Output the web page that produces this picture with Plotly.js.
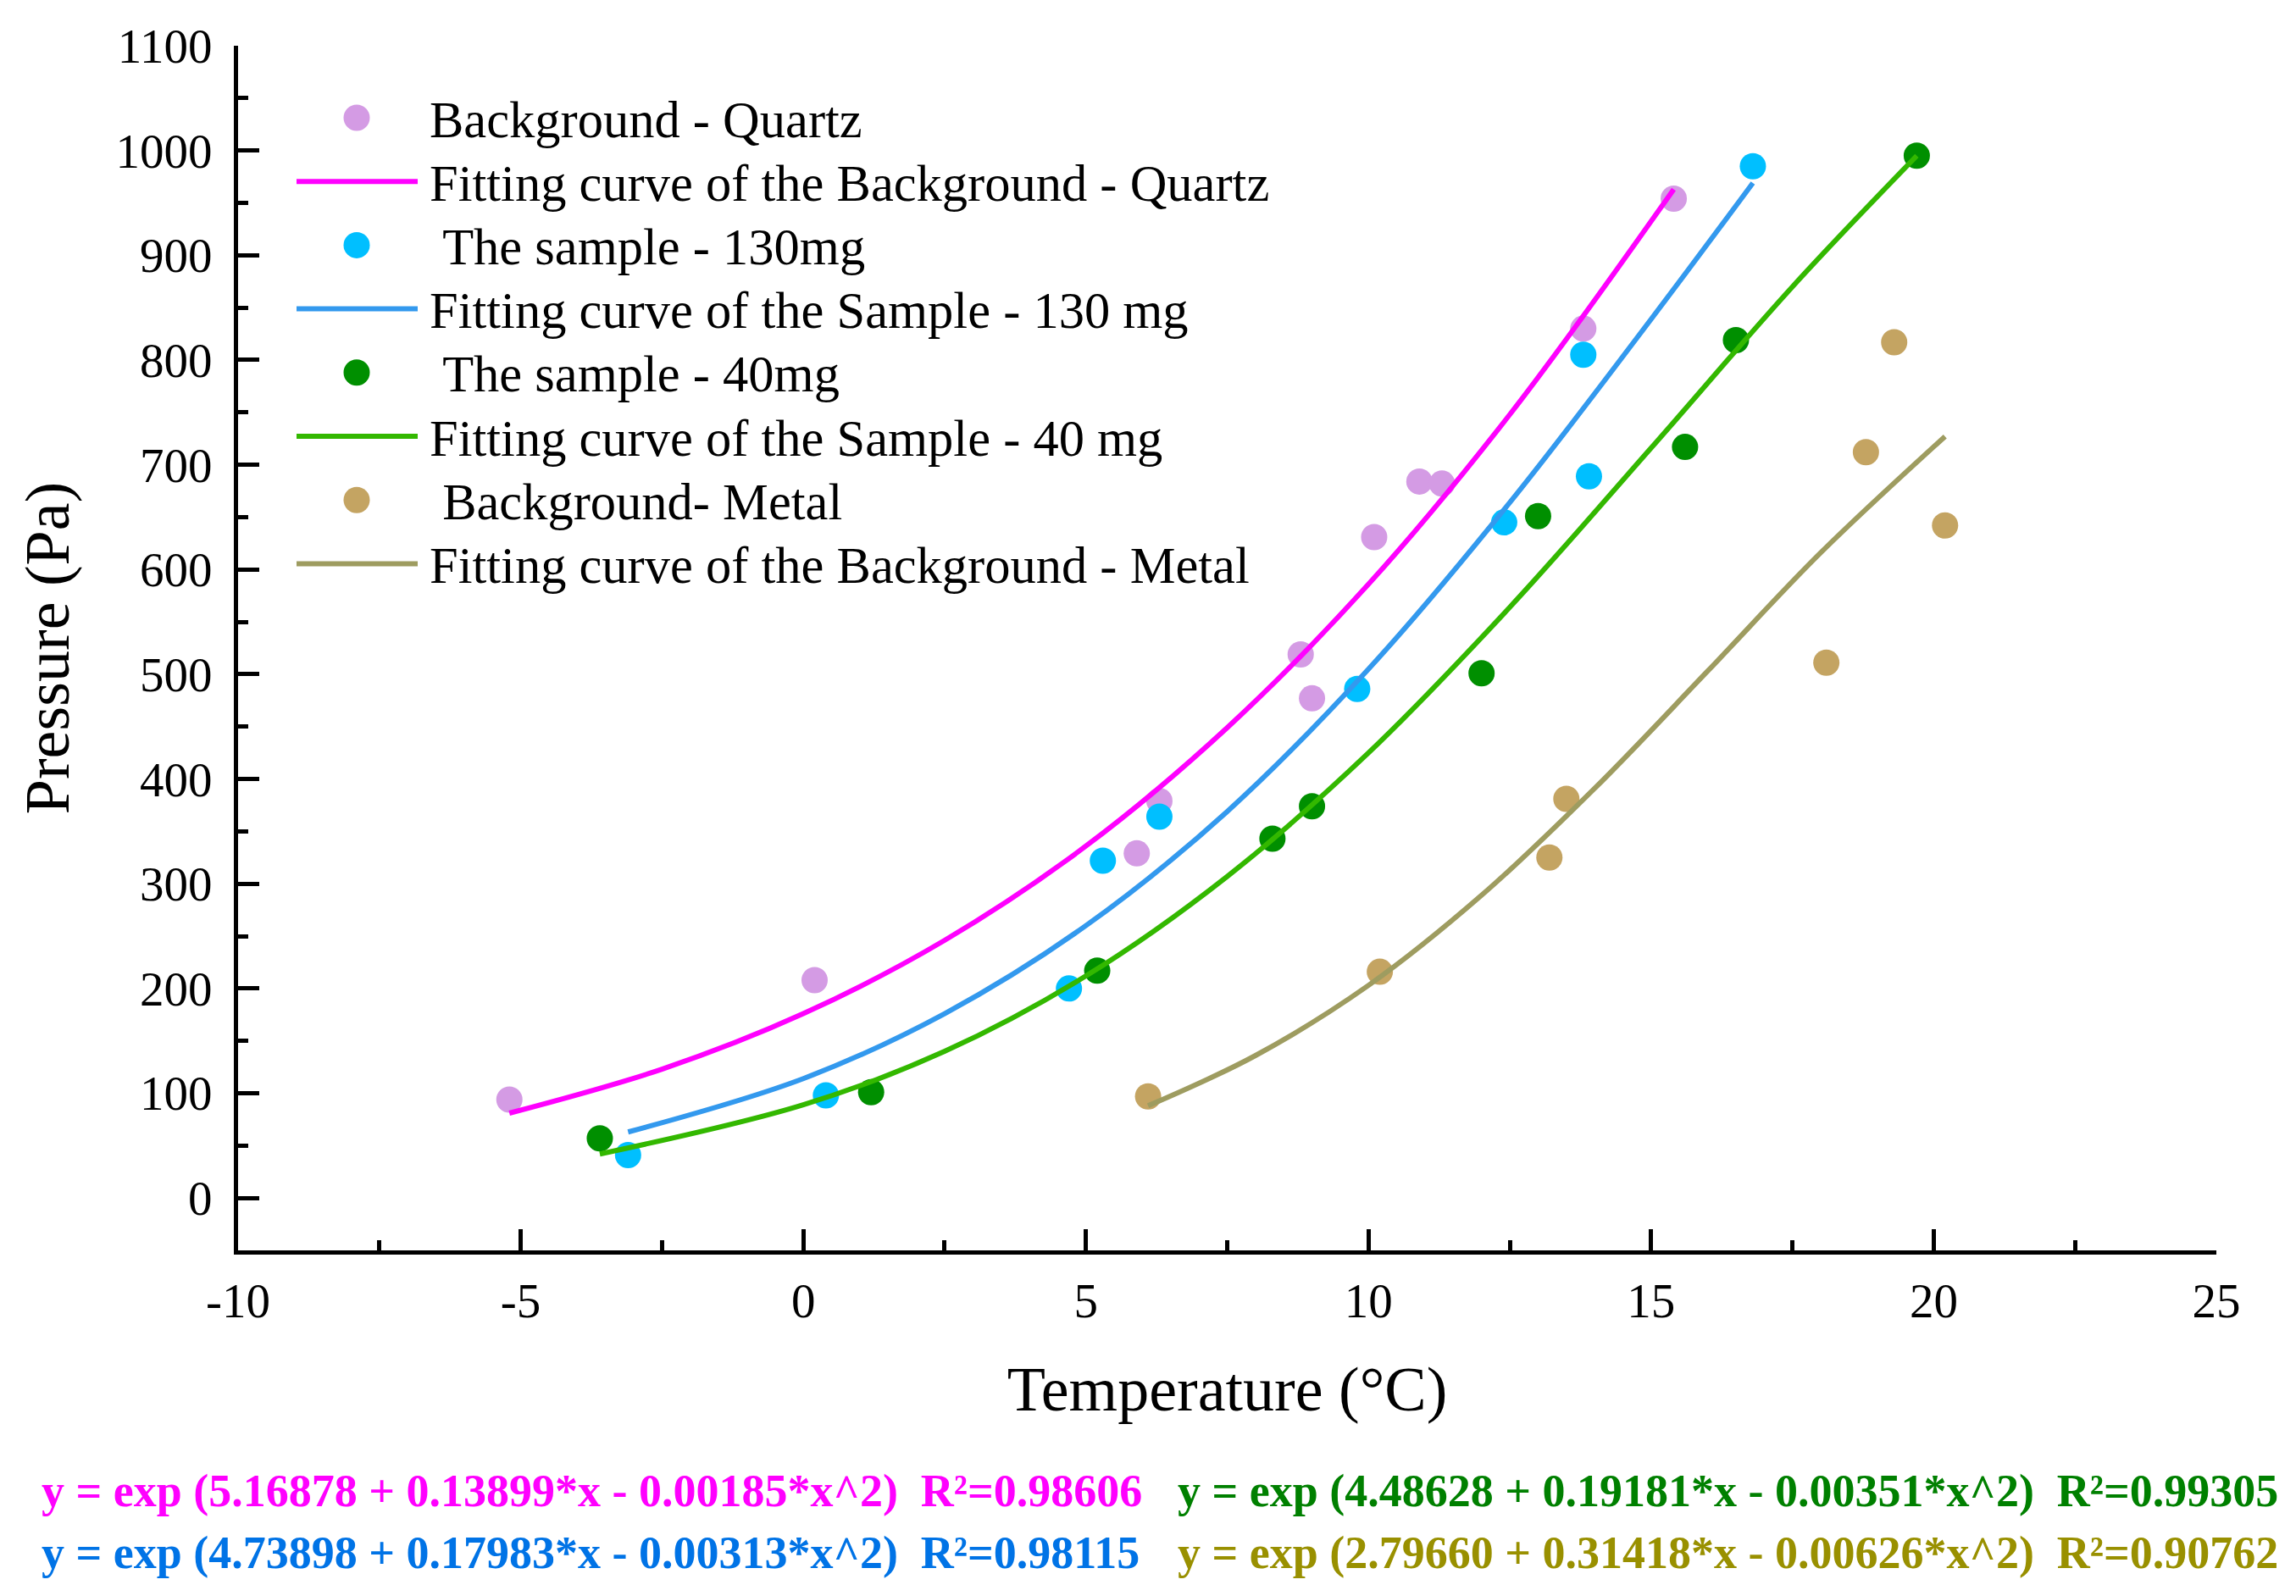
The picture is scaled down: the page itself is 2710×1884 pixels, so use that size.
<!DOCTYPE html>
<html>
<head>
<meta charset="utf-8">
<script src="https://cdn.plot.ly/plotly-3.0.1.min.js"></script>
<style>
  html, body { margin: 0; padding: 0; background: #fff; }
  #plot { width: 2710px; height: 1884px; }
</style>
</head>
<body>
<div id="plot"></div>
<script>
"use strict";

// ── Measured points (temperature °C, pressure Pa) ──
const quartzT = [-5.2, 0.2, 5.9, 6.3, 8.8, 9.0, 10.1, 10.9, 11.3, 13.8, 15.4];
const quartzP = [94, 208, 329, 379, 519, 477, 631, 684, 682, 830, 954];

const s130T = [-3.1, 0.4, 4.7, 5.3, 6.3, 9.8, 12.4, 13.8, 13.9, 16.8];
const s130P = [41, 98, 200, 322, 364, 486, 645, 805, 689, 985];

const s40T = [-3.6, 1.2, 5.2, 8.3, 9.0, 12.0, 13.0, 15.6, 16.5, 19.7];
const s40P = [57, 101, 217, 343, 374, 501, 651, 717, 819, 995];

const metalT = [6.1, 10.2, 13.2, 13.5, 18.1, 18.8, 19.3, 20.2];
const metalP = [97, 216, 325, 381, 511, 712, 817, 642];

// ── Fitted curves ──
const quartzFitT = [-5.2, -2.5, 0, 2.5, 5, 7.5, 10, 12.5, 15.4];
const quartzFitP = [81, 123, 176, 246, 336, 449, 586, 748, 963];

const s130FitT = [-3.1, 0, 2.5, 5, 7.5, 10, 12.5, 15, 16.8];
const s130FitP = [63, 114, 176, 260, 369, 505, 664, 839, 969];

const s40FitT = [-3.6, 0, 2.5, 5, 7.5, 10, 12.5, 15, 17.5, 19.7];
const s40FitP = [42, 89, 140, 212, 307, 425, 564, 716, 870, 995];

const metalFitT = [6.1, 8, 10, 12, 14, 16, 18, 20.2];
const metalFitP = [88, 136, 203, 289, 391, 503, 616, 727];

// ── Tick labels (hyphen minus, as in the original) ──
const xTickVals = [-10, -5, 0, 5, 10, 15, 20, 25];
const xTickText = ["-10", "-5", "0", "5", "10", "15", "20", "25"];

// ── Legend + equation text ──
const legendNames = [
    "Background - Quartz",
    "Fitting curve of the Background - Quartz",
    "\u00a0The sample - 130mg",
    "Fitting curve of the Sample - 130 mg",
    "\u00a0The sample - 40mg",
    "Fitting curve of the Sample - 40 mg",
    "\u00a0Background- Metal",
    "Fitting curve of the Background - Metal",
];
const equations = [
    "y = exp (5.16878 + 0.13899*x - 0.00185*x^2)  R²=0.98606",
    "y = exp (4.73898 + 0.17983*x - 0.00313*x^2)  R²=0.98115",
    "y = exp (4.48628 + 0.19181*x - 0.00351*x^2)  R²=0.99305",
    "y = exp (2.79660 + 0.31418*x - 0.00626*x^2)  R²=0.90762",
];

const FONT = "'Liberation Serif', 'Times New Roman', serif";
const MARK = { quartz: "#d49be4", s130: "#00bfff", s40: "#008f00", metal: "#c4a462" };
const LINE = { quartz: "#ff00ff", s130: "#3399ee", s40: "#33b800", metal: "#9e9c60" };
const EQ_COLORS = ["#ff00ff", "#0073e6", "#008000", "#999000"];

// plot-area geometry in page pixels
const W = 2710, H = 1884;
const M = { l: 281, r: 94, t: 54, b: 408 };
const PW = W - M.l - M.r, PH = H - M.t - M.b;
const px = x => (x - M.l) / PW;
const py = y => (H - M.b - y) / PH;

const pts = (x, y, c) => ({
    type: "scatter", mode: "markers", x, y,
    marker: { size: 31, color: c, line: { width: 0 } },
    showlegend: false, hoverinfo: "x+y",
});
const fit = (x, y, c) => ({
    type: "scatter", mode: "lines", x, y,
    line: { color: c, width: 6, shape: "spline", smoothing: 1 },
    showlegend: false, hoverinfo: "skip",
});

const traces = [
    pts(quartzT, quartzP, MARK.quartz), fit(quartzFitT, quartzFitP, LINE.quartz),
    pts(s130T, s130P, MARK.s130),       fit(s130FitT, s130FitP, LINE.s130),
    pts(s40T, s40P, MARK.s40),          fit(s40FitT, s40FitP, LINE.s40),
    pts(metalT, metalP, MARK.metal),    fit(metalFitT, metalFitP, LINE.metal),
];

// ── Hand-built legend (Plotly caps legend markers at 16px) ──
const legendKinds = ["m", "l", "m", "l", "m", "l", "m", "l"];
const legendColors = [MARK.quartz, LINE.quartz, MARK.s130, LINE.s130,
                      MARK.s40, LINE.s40, MARK.metal, LINE.metal];
const shapes = [], annotations = [];
legendNames.forEach((name, i) => {
    const yc = 139 + 75.2 * i;
    if (legendKinds[i] === "m") {
        shapes.push({
            type: "circle", xref: "paper", yref: "paper",
            xsizemode: "pixel", ysizemode: "pixel",
            xanchor: px(421), yanchor: py(yc),
            x0: -15.5, x1: 15.5, y0: -15.5, y1: 15.5,
            fillcolor: legendColors[i], line: { width: 0 },
        });
    } else {
        shapes.push({
            type: "line", xref: "paper", yref: "paper",
            x0: px(350), x1: px(493), y0: py(yc), y1: py(yc),
            line: { color: legendColors[i], width: 6 },
        });
    }
    annotations.push({
        xref: "paper", yref: "paper", x: px(505), y: py(yc + 2),
        xanchor: "left", yanchor: "middle", showarrow: false,
        text: name, font: { family: FONT, size: 60.5, color: "#000" },
    });
});

// ── Fit equations under the chart ──
const eqPos = [[47, 1760], [47, 1833], [1388, 1760], [1388, 1833]];
equations.forEach((t, i) => {
    annotations.push({
        xref: "paper", yref: "paper", x: px(eqPos[i][0]), y: py(eqPos[i][1]),
        xanchor: "left", yanchor: "middle", showarrow: false,
        text: "<b>" + t + "</b>",
        font: { family: FONT, size: 54, color: EQ_COLORS[i] },
    });
});

const axisCommon = {
    showline: true, linecolor: "#000", linewidth: 5,
    ticks: "inside", ticklen: 25, tickwidth: 5, tickcolor: "#000",
    showgrid: false, zeroline: false, mirror: false,
    tickfont: { family: FONT, size: 57, color: "#000" },
};

const layout = {
    width: W, height: H,
    margin: M,
    paper_bgcolor: "#fff", plot_bgcolor: "#fff",
    showlegend: false,
    xaxis: Object.assign({}, axisCommon, {
        range: [-10, 25], tickmode: "array", tickvals: xTickVals, ticktext: xTickText,
        minor: { ticks: "inside", dtick: 2.5, ticklen: 12, tickwidth: 5, tickcolor: "#000" },
        ticklabelstandoff: 6,
        title: { text: "Temperature (°C)", font: { family: FONT, size: 74, color: "#000" }, standoff: 48 },
    }),
    yaxis: Object.assign({}, axisCommon, {
        range: [-50, 1100], tick0: 0, dtick: 100,
        minor: { ticks: "inside", dtick: 50, ticklen: 12, tickwidth: 5, tickcolor: "#000" },
        ticklabelstandoff: 14,
        title: { text: "Pressure (Pa)", font: { family: FONT, size: 74, color: "#000" }, standoff: 32 },
    }),
    shapes, annotations,
};

Plotly.newPlot("plot", traces, layout, { displayModeBar: false, staticPlot: true });
</script>
</body>
</html>
